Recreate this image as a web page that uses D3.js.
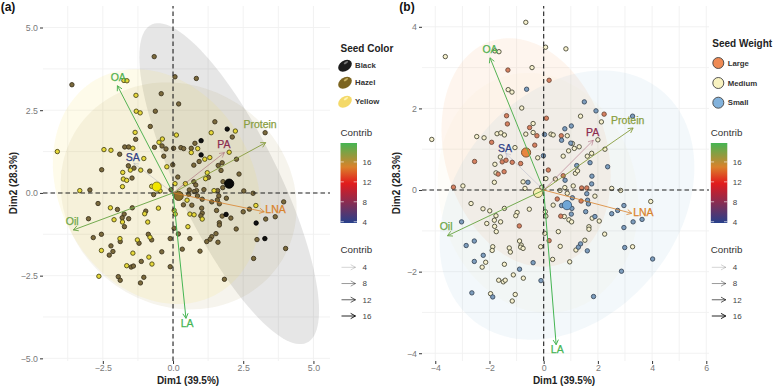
<!DOCTYPE html>
<html lang="en">
<head>
<meta charset="UTF-8">
<title>PCA biplots by seed color and seed weight</title>
<script src="https://d3js.org/d3.v7.min.js"></script>
<style>
  html, body { margin: 0; padding: 0; background: #fff; }
  svg { display: block; font-family: "Liberation Sans", Arial, sans-serif; }
</style>
</head>
<body>
<svg id="chart" width="774" height="386"></svg>
<script>
// individuals, [Dim1, Dim2]
const hazelPts = [[-0.67,4.12],[-3.6,3.27],[0.07,3.51],[0.83,3.46],[-0.42,3],[0.2,2.69],[-0.63,2.47],[-0.81,2.01],[-1.33,1.62],[-0.66,1.38],[-1.72,1.39],[-1.58,1.39],[-1.9,1.17],[-2.54,0.7],[-1.59,0.82],[-1.39,0.75],[-0.83,0.66],[-1.46,0.45],[-2.96,0.09],[-0.33,1.11],[-0.39,1.42],[-0.25,1.33],[0.02,1.35],[0.28,1.37],[0.38,1.34],[-0.01,0.85],[0.17,0.48],[-0.69,-0.05],[-0.07,0.1],
  [1.49,2.15],[2.11,1.69],[3.28,1.82],[0.78,1.5],[0.65,1.35],[2.26,1.02],[1.75,0.91],[1.61,0.83],[0.93,0.95],[0.74,0.84],[1.71,0.68],[2.35,0.57],[1.26,0.47],[0.74,0.34],[0.81,0.24],[1.78,0.34],[1.77,0.16],[1.59,0.07],[1.1,0.1],[0.84,0.07],[0.58,0.09],[0.75,0.04],[2.52,0.06],[2.85,-0.01],[0.87,-0.09],[0.56,-0.04],[1.63,-0.09],[1.58,-0.21],[1.65,-0.33],[1.9,-0.16],[1.04,-0.19],[1.38,-0.27],[0.37,-0.36],[0.67,-0.37],[1.02,-0.46],[1.04,-0.61],[0.99,-0.69],[1.55,-0.53],[2.5,-0.57],[2.72,-0.49],[1.75,-0.7],[2.06,-0.76],[1.65,-0.9],[1.65,-0.97],[3.3,-0.79],[3.64,-0.72],[2.25,-1.09],[0.04,-1.07],[0.19,-1.24],[1.53,-1.23],[3.94,-0.27],[2.99,-1.41],[4.01,-1.68],[2.87,-1.98],[1.83,-2.61],[1.6,-1.49],[1.38,-1.32],[1.32,-1.4],[1.2,-1.47],[0.96,-1.76],[0.33,-1.7],[0.6,-1.38],[-0.1,-1.38],[-0.1,-2.23],
  [-2.67,-0.32],[-3.01,-0.78],[-1.98,-0.5],[-1.45,-0.45],[-0.97,-0.55],[-1.74,-0.64],[-1.81,-0.75],[-1.58,-0.78],[-1.73,-1.02],[-2.84,-1.35],[-2.55,-1.25],[-1.88,-1.47],[-1.21,-1.52],[-0.88,-1.25],[-0.76,-1.42],[-2.21,-1.6],[-2.14,-1.77],[-2.27,-1.88],[-0.4,-1.78],[-1.13,-2.07],[-1.49,-2.24],[-1.41,-2.21],[-1.95,-2.53],[-1.88,-2.64],[-1.04,-2.55],[-1.16,-2.72]];
const yellowPts = [[-4.12,1.25],[-1.75,3.4],[-1.64,3.39],[-1.32,2.95],[-1.31,2.47],[-1.17,2.42],[-1.35,1.83],[0.12,1.75],[-0.38,1.63],[-0.5,1.53],[-1.43,1.35],[-2.46,1.31],[-2.21,1.29],[-1.04,1.04],[-1.79,0.62],[-1.52,0.69],[-1.15,0.69],[-0.22,0.79],[-1.77,0.42],[-1.65,0.38],[-1.8,0.19],[-3.32,0.07],[-0.76,0.2],[0.07,0.28],[0.44,0.28],[-0.46,0.06],
  [2.22,1.87],[1.36,1.82],[0.88,1.34],[0.65,1.22],[2.0,1.23],[1.13,1.02],[1.31,1.07],[1.22,0.61],[1.16,0.43],[1.46,0.07],[0.5,-0.22],[0.6,-0.64],[0.75,-0.66],[1.04,-0.79],[2.95,-0.38],[0.53,-1.02],[0.04,-0.53],[0.08,-0.64],
  [-2.23,-0.45],[-2.1,-0.81],[-1.8,-0.88],[-1.01,-0.63],[-0.9,-0.88],[-0.52,-0.46],[-1.89,-1.38],[-1.27,-1.42],[-0.82,-1.34],[-2.55,-1.74],[-1.43,-1.82],[-0.86,-1.94],[-0.75,-2.15],[-1.65,-2.2],[-2.64,-2.52]];
const blackPts = [[1.93,1.93],[1.0,1.58],[1.0,1.15],[2.96,-0.91],[3.27,-1.38],[1.89,-0.65]];

// individuals
const mediumPts = [[-0.66,4.11],[-3.63,3.27],[-1.8,3.41],[-1.65,3.39],[0.07,3.5],[-0.43,3],[-1.31,2.46],[-1.17,2.4],[-0.81,2.01],[-4.13,1.24],[-2.47,1.31],[-2.2,1.28],[-1.72,1.38],[-1.58,1.4],[-1.45,1.35],[-0.66,1.37],[-0.39,1.63],[-0.39,1.41],[0.27,1.37],[0.35,1.35],[-1.06,1.04],[-1.6,0.81],[-0.22,0.79],[-1.8,0.63],[-1.76,0.42],[-1.82,0.19],[-2.98,0.1],[-0.76,0.2],[0.08,0.28],[-0.69,0.04],[-0.07,0.07],
  [0.82,3.46],[1.36,1.81],[2.13,1.67],[0.87,1.33],[2,1.23],[1.06,1.14],[1.31,1.06],[1.13,1.02],[0.92,0.96],[0.72,0.83],[1.61,0.83],[1.77,0.9],[2.26,1],[1.17,0.41],[1.25,0.47],[0.43,0.27],[1.09,0.1],[0.78,0.06],[0.6,-0.01],[2.51,0.04],[2.84,-0.01],[0.87,-0.08],
  [1.89,-0.15],[0.35,-0.37],[0.76,-0.65],[0.93,-0.73],[1.03,-0.78],[2.05,-0.76],[1.67,-0.9],[1.67,-0.96],[2.25,-1.08],[0.54,-1.02],[0.04,-1.06],[0.06,-0.53],[0.08,-0.64],[3.95,-0.28],[3.28,-1.39],[1.52,-1.23],[1.19,-1.47],[0.96,-1.76],[0.33,-1.7],[0.61,-1.38],[1.79,-0.69],
  [-2.68,-0.33],[-2.24,-0.46],[-1.99,-0.51],[-1.45,-0.45],[-0.53,-0.47],[-0.98,-0.55],[-1.03,-0.63],[-1.76,-0.63],[-1.82,-0.74],[-1.59,-0.78],[-2.1,-0.82],[-1.81,-0.89],[-1.75,-1.02],[-0.89,-1.25],[-0.83,-1.35],[-0.85,-1.4],[-0.76,-1.43],[-1.88,-1.39],[-1.9,-1.48],[-1.27,-1.42],[-1.23,-1.52],[-0.11,-1.39],[-2.14,-1.77],[-2.27,-1.89],[-1.45,-1.82],[-1.12,-2.08],[-0.75,-2.16],[-1.66,-2.21],[-1.49,-2.25],[-1.42,-2.21],[-1.96,-2.54],[-1.05,-2.56],[-1.16,-2.72]];
const largePts = [[-1.32,2.94],[0.2,2.69],[-1.37,1.82],[-1.34,1.62],[-0.52,1.53],[0.1,1.76],[-0.25,1.33],[-1.92,1.17],[-0.33,1.1],[-2.55,0.7],[-1.53,0.69],[-1.39,0.73],[-1.16,0.68],[-0.85,0.65],[0.17,0.49],[-1.46,0.45],[-1.68,0.39],[-3.33,0.07],
  [2.23,1.86],[0.65,1.33],[0.72,0.35],[1.4,0.05],[1.59,0.05],[1.38,-0.27],[0.5,-0.22],[0.63,-0.64],[0.2,-1.24],[-0.9,-0.88]];
const smallPts = [[-0.63,2.47],[0.03,1.36],[-0.01,0.84],[-0.58,0.19],
  [1.5,2.16],[1.93,1.94],[3.28,1.81],[1.02,1.57],[0.78,1.5],[0.66,1.22],[1,1.15],[1.71,0.67],[2.36,0.57],[1.22,0.6],[1.78,0.34],[0.79,0.24],[1.77,0.15],[1.59,-0.09],[1.06,-0.19],[1.62,-0.25],[1.65,-0.34],[0.66,-0.38],[1.04,-0.45],[1.02,-0.59],[1.55,-0.53],[2.51,-0.58],[2.73,-0.5],[2.96,-0.38],[1.89,-0.65],[3.3,-0.78],[3.63,-0.72],[2.96,-0.92],[2.99,-1.41],[4.02,-1.69],[2.87,-1.99],[1.84,-2.61],[1.61,-1.49],[1.36,-1.32],[1.28,-1.4],
  [-3.03,-0.78],[-2.86,-1.36],[-2.56,-1.25],[-2.23,-1.6],[-2.56,-1.75],[-0.89,-1.94],[-0.39,-1.78],[-0.1,-2.22],[-2.65,-2.52],[-1.88,-2.62]];

// group means and concentration ellipses: cx, cy, half width, half height, correlation
const colorGroups = ["Black", "Hazel", "Yellow"];
const colorEllipses = [[2.0,0.28,3.2,4.85,-0.79],[0.2,-0.09,4.2,3.43,-0.1],[-0.58,0.19,3.7,3.55,-0.2]];
const weightGroups = ["Large", "Medium", "Small"];
const weightEllipses = [[-0.65,0.92,3.12,2.8,-0.2],[-0.21,-0.07,3.7,2.94,-0.1],[0.86,-0.37,4.7,3.3,0.28]];

// variables
const varNames = ["LA", "OA", "Oil", "Protein", "LNA", "PA", "SA"];
const varX = [0.46,-1.98,-3.55,3.3,3.25,1.83,-1.4];
const varY = [-3.79,3.24,-1.12,1.52,-0.57,1.22,0.9];
const varContrib = [19.8,19.4,18.5,17.6,15,8,4];
const labelXa = [0.5,-1.95,-3.59,3.1,3.65,1.81,-1.43];
const labelYa = [-3.93,3.49,-0.85,2.06,-0.51,1.47,1.08];
const labelXb = [0.5,-1.98,-3.6,3.1,3.68,1.81,-1.43];
const labelYb = [-3.9,3.45,-0.9,1.72,-0.55,1.42,1.02];

const xTicksA = [-2.5,0,2.5,5], yTicksA = [-5,-2.5,0,2.5,5];
const xTicksB = [-4,-2,0,2,4,6], yTicksB = [-4,-2,0,2,4];
const xMinorA = [-3.75,-1.25,1.25,3.75], yMinorA = [-3.75,-1.25,1.25,3.75];
const xMinorB = [-3,-1,1,3,5], yMinorB = [-3,-1,1,3];
const contribTicks = [4,8,12,16];

const svg = d3.select("#chart");
const contribColor = d3.scaleLinear().domain([3.7,11.7,15,19.8]).range(["#27408b","#e31a1c","#d9822b","#45b553"]);
const contribAlpha = d3.scaleLinear().domain([3.7,16,19.8]).range([0.15,0.85,1]).clamp(true);
const fmtMinus = s => String(s).replace("-", "\u2212");

// arrow head marker drawn per arrow
function addArrow(g, x1, y1, x2, y2, color, alpha, width) {
  const a = Math.atan2(y2 - y1, x2 - x1), h = 5.5;
  const p = d3.path();
  p.moveTo(x1, y1); p.lineTo(x2, y2);
  p.moveTo(x2 - h * Math.cos(a - 0.5), y2 - h * Math.sin(a - 0.5));
  p.lineTo(x2, y2);
  p.lineTo(x2 - h * Math.cos(a + 0.5), y2 - h * Math.sin(a + 0.5));
  g.append("path").attr("d", p.toString()).attr("fill", "none")
    .attr("stroke", color).attr("stroke-opacity", alpha).attr("stroke-width", width);
}

function ellipsePath(e, x, y) {
  const pts = d3.range(0, 2 * Math.PI, 0.05).map(t => [
    x(e[0] + e[2] * Math.cos(t)),
    y(e[1] + e[3] * (e[4] * Math.cos(t) + Math.sqrt(1 - e[4] * e[4]) * Math.sin(t)))
  ]);
  return d3.line().curve(d3.curveLinearClosed)(pts);
}

function drawPanel(opt) {
  const x = d3.scaleLinear().domain(opt.xDomain).range(opt.xRange);
  const y = d3.scaleLinear().domain(opt.yDomain).range(opt.yRange);
  const g = svg.append("g");

  // grid
  const grid = g.append("g").attr("stroke", "#f0f0f0").attr("stroke-width", 0.9);
  opt.xTicks.concat(opt.xMinor).forEach(v => grid.append("line").attr("x1", x(v)).attr("x2", x(v)).attr("y1", opt.yRange[1]).attr("y2", opt.yRange[0]));
  opt.yTicks.concat(opt.yMinor).forEach(v => grid.append("line").attr("y1", y(v)).attr("y2", y(v)).attr("x1", opt.xRange[0]).attr("x2", opt.xRange[1]));

  // ellipses
  opt.ellipses.forEach((e, i) => {
    g.append("path").attr("d", ellipsePath(e, x, y))
      .attr("fill", opt.ellipseFill[i]).attr("fill-opacity", opt.ellipseAlpha[i]);
  });

  // axes
  const axB = g.append("g").attr("transform", `translate(0,${opt.yRange[0]})`)
    .call(d3.axisBottom(x).tickValues(opt.xTicks).tickSize(3).tickPadding(1).tickFormat(opt.fmt));
  const axL = g.append("g").attr("transform", `translate(${opt.xRange[0]},0)`)
    .call(d3.axisLeft(y).tickValues(opt.yTicks).tickSize(3).tickPadding(2).tickFormat(opt.fmt));
  [axB, axL].forEach(a => {
    a.select(".domain").remove();
    a.selectAll(".tick line").attr("stroke", "#333333");
    a.selectAll(".tick text").attr("fill", "#7a7a7a").attr("font-size", 8.8).attr("font-family", "Liberation Sans");
  });

  // points
  opt.groups.forEach(s => {
    g.append("g").selectAll("circle").data(s.pts).enter().append("circle")
      .attr("cx", d => x(d[0])).attr("cy", d => y(d[1])).attr("r", 2.2)
      .attr("fill", s.fill).attr("stroke", s.stroke).attr("stroke-width", 0.9);
  });

  // zero lines
  g.append("line").attr("x1", opt.xRange[0]).attr("x2", opt.xRange[1]).attr("y1", y(0)).attr("y2", y(0))
    .attr("stroke", "#222").attr("stroke-width", 1.1).attr("stroke-dasharray", "4.5,3");
  g.append("line").attr("x1", x(0)).attr("x2", x(0)).attr("y1", opt.yRange[0]).attr("y2", opt.yRange[1])
    .attr("stroke", "#222").attr("stroke-width", 1.1).attr("stroke-dasharray", "4.5,3");

  // group mean points
  opt.means.forEach(m => {
    g.append("circle").attr("cx", x(m.c[0])).attr("cy", y(m.c[1])).attr("r", 4.6)
      .attr("fill", m.fill).attr("stroke", m.stroke).attr("stroke-width", 0.9);
  });

  // variable arrows and labels
  varNames.forEach((name, i) => {
    const col = contribColor(varContrib[i]);
    addArrow(g, x(0), y(0), x(varX[i]), y(varY[i]), col, contribAlpha(varContrib[i]), 1);
    g.append("text").attr("x", x(opt.labelX[i])).attr("y", y(opt.labelY[i])).attr("dy", "0.35em")
      .attr("text-anchor", "middle").attr("font-size", 10.5).attr("fill", col)
      .attr("stroke", col).attr("stroke-width", 0.25).text(name);
  });

  // titles
  g.append("text").attr("x", opt.xTitleX).attr("y", 380.5).attr("dy", "0.35em").attr("text-anchor", "middle")
    .attr("font-size", 10).attr("font-weight", "bold").attr("fill", "#222").text("Dim1 (39.5%)");
  g.append("text").attr("transform", `translate(${opt.yTitleX},${opt.yTitleY}) rotate(-90)`).attr("dy", "0.35em")
    .attr("text-anchor", "middle").attr("font-size", 10).attr("font-weight", "bold").attr("fill", "#222").text("Dim2 (28.3%)");
  g.append("text").attr("x", opt.tagX).attr("y", 7).attr("dy", "0.35em").attr("text-anchor", "middle")
    .attr("font-size", 12).attr("font-weight", "bold").attr("fill", "#111").text(opt.tag);
}

// legends that both panels have
function contribLegends(x0) {
  const barH = [143, 223], bar = d3.scaleLinear().domain([4,19.8]).range([221.7, 143]);
  const id = "grad" + Math.round(x0);
  const grad = svg.append("defs").append("linearGradient").attr("id", id)
    .attr("x1", 0).attr("x2", 0).attr("y1", 1).attr("y2", 0);
  d3.range(0, 1.001, 0.05).forEach(t => {
    const v = 3.7 + t * (19.8 - 3.7);
    grad.append("stop").attr("offset", t).attr("stop-color", contribColor(v));
  });
  const g = svg.append("g");
  g.append("text").attr("x", x0).attr("y", 132.7).attr("dy", "0.35em").attr("font-size", 9.8).attr("fill", "#333").text("Contrib");
  g.append("rect").attr("x", x0).attr("y", barH[0]).attr("width", 16.5).attr("height", barH[1] - barH[0]).attr("fill", `url(#${id})`);
  contribTicks.forEach(v => {
    g.append("line").attr("x1", x0).attr("x2", x0 + 3.3).attr("y1", bar(v)).attr("y2", bar(v)).attr("stroke", "#fff").attr("stroke-width", 0.6);
    g.append("line").attr("x1", x0 + 13.2).attr("x2", x0 + 16.5).attr("y1", bar(v)).attr("y2", bar(v)).attr("stroke", "#fff").attr("stroke-width", 0.6);
    g.append("text").attr("x", x0 + 22).attr("y", bar(v)).attr("dy", "0.35em").attr("font-size", 8).attr("fill", "#444").text(v);
  });
  g.append("text").attr("x", x0).attr("y", 249.3).attr("dy", "0.35em").attr("font-size", 9.8).attr("fill", "#333").text("Contrib");
  contribTicks.forEach((v, i) => {
    const yy = d3.scaleLinear().domain([0,3]).range([267.3, 316])(i);
    addArrow(g, x0 + 1, yy, x0 + 15, yy, "#000", contribAlpha(v), 1);
    g.append("text").attr("x", x0 + 22).attr("y", yy).attr("dy", "0.35em").attr("font-size", 8).attr("fill", "#444").text(v);
  });
}

drawPanel({
  xDomain: [-4.63,5.59], xRange: [43,330], yDomain: [-5.08,5.65], yRange: [361,6],
  xTicks: xTicksA, yTicks: yTicksA, xMinor: xMinorA, yMinor: yMinorA,
  fmt: v => fmtMinus(d3.format(".1f")(v)),
  ellipses: colorEllipses, ellipseFill: ["#555555","#8a6d1e","#f5e050"], ellipseAlpha: [0.15,0.08,0.12],
  groups: [
    { pts: hazelPts, fill: "#7b6a3c", stroke: "#3e3620" },
    { pts: yellowPts, fill: "#e6d83a", stroke: "#4e4a18" },
    { pts: blackPts, fill: "#111111", stroke: "#000000" }
  ],
  means: [
    { c: [colorEllipses[0][0], colorEllipses[0][1]], fill: "#0a0a0a", stroke: "#000" },
    { c: [colorEllipses[1][0], colorEllipses[1][1]], fill: "#8a6d2a", stroke: "#4a3d18" },
    { c: [colorEllipses[2][0], colorEllipses[2][1]], fill: "#f2e600", stroke: "#7a7420" }
  ],
  labelX: labelXa, labelY: labelYa,
  xTitleX: 188, yTitleX: 13, yTitleY: 183, tagX: 8, tag: "(a)"
});

drawPanel({
  xDomain: [-4.49,6.1], xRange: [422,709], yDomain: [-4.19,4.51], yRange: [361,6],
  xTicks: xTicksB, yTicks: yTicksB, xMinor: xMinorB, yMinor: yMinorB,
  fmt: v => fmtMinus(d3.format("d")(v)),
  ellipses: weightEllipses, ellipseFill: ["#f2995c","#f2e8a8","#7fb0d6"], ellipseAlpha: [0.1,0.07,0.09],
  groups: [
    { pts: mediumPts, fill: "#f7f1cf", stroke: "#4a4a38" },
    { pts: largePts, fill: "#d68060", stroke: "#6e4c3c" },
    { pts: smallPts, fill: "#7d9dbd", stroke: "#3c4c5e" }
  ],
  means: [
    { c: [weightEllipses[0][0], weightEllipses[0][1]], fill: "#e8863f", stroke: "#6e4a2a" },
    { c: [weightEllipses[1][0], weightEllipses[1][1]], fill: "#f6efb0", stroke: "#6e6a40" },
    { c: [weightEllipses[2][0], weightEllipses[2][1]], fill: "#6fa6d6", stroke: "#3f5a75" }
  ],
  labelX: labelXb, labelY: labelYb,
  xTitleX: 564, yTitleX: 396, yTitleY: 183, tagX: 407, tag: "(b)"
});

// Seed Color legend with little seed shapes
const seedFill = ["#1d1d1d","#7c6420","#f4d968"], seedGlow = ["#777","#c9b060","#fff3b0"], seedY = [65.7,82.7,101.7];
svg.append("text").attr("x", 340.5).attr("y", 48).attr("dy", "0.35em").attr("font-size", 10).attr("font-weight", "bold").attr("fill", "#222").text("Seed Color");
colorGroups.forEach((name, i) => {
  const s = svg.append("g").attr("transform", `translate(345,${seedY[i]}) rotate(-35)`);
  s.append("ellipse").attr("rx", 7.5).attr("ry", 5.2).attr("fill", seedFill[i]);
  s.append("ellipse").attr("cx", 2.5).attr("cy", -2).attr("rx", 2.5).attr("ry", 1).attr("fill", seedGlow[i]);
  svg.append("text").attr("x", 355).attr("y", seedY[i]).attr("dy", "0.35em").attr("font-size", 7.8).attr("font-weight", "bold").attr("fill", "#333").text(name);
});

// Seed Weight legend
const weightFill = ["#ee8a55","#f8f2c0","#82b2dc"], weightY = [63,83,102.7];
svg.append("text").attr("x", 712.3).attr("y", 43.3).attr("dy", "0.35em").attr("font-size", 10).attr("font-weight", "bold").attr("fill", "#222").text("Seed Weight");
weightGroups.forEach((name, i) => {
  svg.append("circle").attr("cx", 718.3).attr("cy", weightY[i]).attr("r", 5.5).attr("fill", weightFill[i]).attr("stroke", "#444").attr("stroke-width", 0.9);
  svg.append("text").attr("x", 727.7).attr("y", weightY[i]).attr("dy", "0.35em").attr("font-size", 7.8).attr("font-weight", "bold").attr("fill", "#333").text(name);
});

contribLegends(340.5);
contribLegends(710.8);
</script>
</body>
</html>
